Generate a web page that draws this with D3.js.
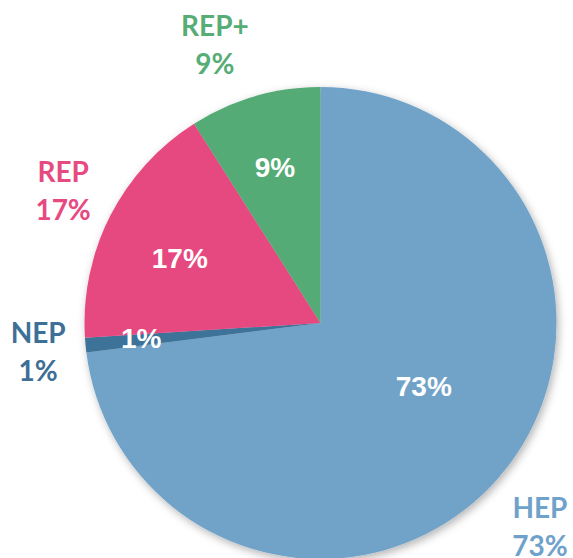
<!DOCTYPE html>
<html>
<head>
<meta charset="utf-8">
<script src="https://cdn.jsdelivr.net/npm/d3@7"></script>
<style>
  html, body { margin: 0; padding: 0; background: #fff; overflow: hidden; }
  svg { display: block; }
</style>
</head>
<body>
<svg id="chart" width="573" height="558"></svg>
<script>
// Data
const categories = ["HEP", "NEP", "REP", "REP+"];
const values = [73, 1, 17, 9];
const valueLabels = ["73%", "1%", "17%", "9%"];
const colors = ["#71A3C9", "#3E7299", "#E64A80", "#55AB76"];
const labelColors = ["#6FA2CB", "#3E6F97", "#E64A80", "#56AD75"];

// Layout (placement of labels, not data)
const cx = 320.5, cy = 323, R = 236;
// label placement: [angle offset (deg) from slice mid, radius]
const innerPlace = { "HEP": [-10, 121], "NEP": [0.6, 180], "REP": [-2.2, 155], "REP+": [0, 163] };
const outerPlace = { "HEP": [2.9, 306.6], "NEP": [-2.4, 285], "REP": [-1.7, 284.7], "REP+": [-5.3, 288] };

const svg = d3.select("#chart");
const defs = svg.append("defs");
const f = defs.append("filter").attr("id", "shadow")
  .attr("x", "-20%").attr("y", "-20%").attr("width", "140%").attr("height", "140%");
f.append("feDropShadow").attr("dx", 2).attr("dy", 3).attr("stdDeviation", 4)
  .attr("flood-color", "#000").attr("flood-opacity", 0.3);

const data = categories.map((c, i) => ({ cat: c, value: values[i], label: valueLabels[i], color: colors[i], lc: labelColors[i] }));

const pie = d3.pie().sort(null).value(d => d.value);
const arcs = pie(data);
const arc = d3.arc().innerRadius(0).outerRadius(R);

const g = svg.append("g").attr("transform", `translate(${cx},${cy})`);
g.append("g").attr("filter", "url(#shadow)")
  .selectAll("path").data(arcs).enter().append("path")
  .attr("d", arc)
  .attr("fill", d => d.data.color);

function polar(a, r) { return [r * Math.sin(a), -r * Math.cos(a)]; }

// inner labels
g.selectAll("text.inner").data(arcs).enter().append("text")
  .attr("class", "inner")
  .attr("transform", d => {
    const p = innerPlace[d.data.cat];
    const a = (d.startAngle + d.endAngle) / 2 + p[0] * Math.PI / 180;
    const [x, y] = polar(a, p[1]);
    return `translate(${x},${y})`;
  })
  .attr("text-anchor", "middle")
  .attr("dy", "0.36em")
  .attr("font-family", "'Liberation Sans', Arial, sans-serif")
  .attr("font-weight", "bold")
  .attr("font-size", 28)
  .attr("fill", "#fff")
  .text(d => d.data.label);

// outer labels
const outer = g.selectAll("g.outer").data(arcs).enter().append("g")
  .attr("class", "outer")
  .attr("transform", d => {
    const p = outerPlace[d.data.cat];
    const a = (d.startAngle + d.endAngle) / 2 + p[0] * Math.PI / 180;
    const [x, y] = polar(a, p[1]);
    return `translate(${x},${y})`;
  });
outer.append("text")
  .attr("text-anchor", "middle")
  .attr("y", -19)
  .attr("font-family", "Lato, 'Open Sans', sans-serif")
  .attr("font-weight", "bold")
  .attr("font-size", 28)
  .attr("fill", d => d.data.lc)
  .text(d => d.data.cat);
outer.append("text")
  .attr("text-anchor", "middle")
  .attr("y", 19)
  .attr("font-family", "Lato, 'Open Sans', sans-serif")
  .attr("font-weight", "bold")
  .attr("font-size", 28)
  .attr("fill", d => d.data.lc)
  .text(d => d.data.label);
</script>
</body>
</html>
